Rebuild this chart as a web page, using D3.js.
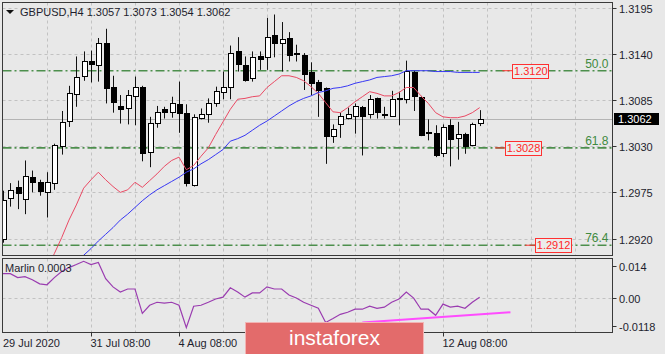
<!DOCTYPE html>
<html><head><meta charset="utf-8">
<script src="https://cdn.jsdelivr.net/npm/d3@7"></script>
<style>
html,body{margin:0;padding:0;background:#e8e8e8;overflow:hidden}
svg{display:block}
text{font-family:"Liberation Sans",Arial,sans-serif;font-size:11px}
</style></head><body>
<svg id="c" width="665" height="354"></svg>
<script>
const symbol = "GBPUSD,H4";
const headerValues = ["1.3057","1.3073","1.3054","1.3062"];
const opens = [1.2919,1.2969,1.2981,1.2966,1.2993,1.2987,1.2975,1.2986,1.3030,1.3060,1.3093,1.3113,1.3132,1.3127,1.3153,1.3100,1.3078,1.3075,1.3090,1.3101,1.3024,1.3058,1.3074,1.3070,1.3080,1.3070,1.2984,1.3064,1.3068,1.3082,1.3095,1.3101,1.3143,1.3127,1.3111,1.3137,1.3136,1.3162,1.3153,1.3159,1.3141,1.3139,1.3119,1.3106,1.3099,1.3042,1.3056,1.3064,1.3066,1.3077,1.3068,1.3087,1.3069,1.3066,1.3088,1.3087,1.3119,1.3089,1.3047,1.3046,1.3022,1.3055,1.3039,1.3045,1.3032,1.3057];
const highs = [1.2977,1.2986,1.2989,1.3013,1.3001,1.2990,1.2999,1.3033,1.3072,1.3102,1.3137,1.3143,1.3144,1.3159,1.3170,1.3114,1.3091,1.3097,1.3113,1.3102,1.3065,1.3078,1.3077,1.3089,1.3107,1.3080,1.3068,1.3075,1.3087,1.3101,1.3119,1.3150,1.3160,1.3137,1.3143,1.3143,1.3183,1.3187,1.3178,1.3166,1.3151,1.3141,1.3130,1.3109,1.3100,1.3056,1.3070,1.3076,1.3081,1.3078,1.3091,1.3088,1.3077,1.3096,1.3095,1.3132,1.3120,1.3090,1.3062,1.3055,1.3056,1.3062,1.3059,1.3046,1.3058,1.3073];
const lows = [1.2915,1.2958,1.2955,1.2949,1.2975,1.2971,1.2945,1.2978,1.3020,1.3053,1.3077,1.3108,1.3106,1.3107,1.3081,1.3070,1.3057,1.3056,1.3055,1.3012,1.3005,1.3052,1.3063,1.3064,1.3046,1.2982,1.2982,1.3062,1.3058,1.3077,1.3086,1.3086,1.3119,1.3107,1.3107,1.3121,1.3121,1.3136,1.3119,1.3131,1.3131,1.3097,1.3091,1.3065,1.3009,1.3034,1.3040,1.3062,1.3045,1.3019,1.3063,1.3063,1.3063,1.3065,1.3055,1.3081,1.3072,1.3042,1.3037,1.3017,1.3017,1.3006,1.3014,1.3021,1.3030,1.3054];
const closes = [1.2966,1.2978,1.2974,1.2994,1.2987,1.2976,1.2987,1.3031,1.3059,1.3093,1.3113,1.3131,1.3128,1.3153,1.3099,1.3082,1.3075,1.3091,1.3101,1.3022,1.3058,1.3071,1.3070,1.3081,1.3069,1.2986,1.3065,1.3069,1.3081,1.3096,1.3101,1.3141,1.3127,1.3109,1.3136,1.3134,1.3160,1.3153,1.3158,1.3139,1.3140,1.3116,1.3106,1.3097,1.3042,1.3050,1.3066,1.3069,1.3078,1.3066,1.3086,1.3070,1.3068,1.3086,1.3087,1.3120,1.3090,1.3044,1.3046,1.3020,1.3053,1.3038,1.3044,1.3031,1.3057,1.3062];
const redMA = [null,null,null,null,null,1.2862,1.2883,1.2902,1.2921,1.2942,1.2960,1.2980,1.2990,1.2999,1.2990,1.2982,1.2975,1.2978,1.2987,1.2981,1.2989,1.2997,1.3006,1.3013,1.3017,1.3002,1.3007,1.3018,1.3028,1.3044,1.3059,1.3074,1.3086,1.3087,1.3089,1.3090,1.3100,1.3107,1.3114,1.3114,1.3112,1.3108,1.3101,1.3093,1.3082,1.3071,1.3070,1.3076,1.3083,1.3089,1.3095,1.3093,1.3090,1.3090,1.3094,1.3100,1.3100,1.3090,1.3081,1.3070,1.3065,1.3064,1.3064,1.3066,1.3070,1.3076];
const blueMA = [null,null,null,null,null,null,null,null,null,null,1.2892,1.2900,1.2908,1.2917,1.2925,1.2933,1.2942,1.2949,1.2957,1.2965,1.2972,1.2978,1.2983,1.2988,1.2993,1.2999,1.3003,1.3009,1.3014,1.3020,1.3026,1.3036,1.3039,1.3043,1.3049,1.3055,1.3060,1.3066,1.3072,1.3078,1.3083,1.3087,1.3090,1.3094,1.3096,1.3099,1.3100,1.3102,1.3105,1.3107,1.3109,1.3112,1.3113,1.3114,1.3116,1.3120,1.3120,1.3120,1.3120,1.3119,1.3119,1.3119,1.3118,1.3118,1.3118,1.3118];
const marlin = [0.0105,0.0105,0.0088,0.0092,0.0079,0.0061,0.0057,0.0088,0.0114,0.0131,0.0144,0.0158,0.0144,0.0153,0.0083,0.0048,0.0026,0.0039,0.0039,-0.0066,-0.0031,-0.0018,-0.0022,-0.0018,-0.0031,-0.0127,-0.0035,-0.0031,-0.0018,-0.0004,0.0004,0.0044,0.0026,0.0004,0.0022,0.0022,0.0048,0.0039,0.0039,0.0013,0.0000,-0.0018,-0.0031,-0.0044,-0.0105,-0.0088,-0.0070,-0.0061,-0.0048,-0.0048,-0.0035,-0.0044,-0.0039,-0.0018,-0.0004,0.0026,0.0000,-0.0048,-0.0048,-0.0074,-0.0026,-0.0039,-0.0035,-0.0044,-0.0018,0.0003];
const marlinLabel = "Marlin 0.0003";
const priceTicks = [1.3195,1.3140,1.3085,1.3030,1.2975,1.2920];
const oscTicks = [0.014,0,-0.0118];
const oscTickLabels = ["0.014","0.00","-0.0118"];
// labels 6 Aug 08:00 and 10 Aug 08:00 sit under the logo and are not visible in the reference
const timeLabelIdx = [0,12,24,60];
const timeLabels = ["29 Jul 2020","31 Jul 08:00","4 Aug 08:00","12 Aug 08:00"];
const fibPrices = [1.3120,1.3028,1.2912];
const fibNames = ["50.0","61.8","76.4"];
const tagPrices = [1.3120,1.3028,1.2912];
const tagIdx = [68.1,67.1,71.2];
const lastPrice = 1.3062;
const trendIdx = [49,69.2];
const trendVal = [-0.0105,-0.0061];
const logoText = "instaforex";

const svg = d3.select("#c");
const L = 2.5, R = 612.5, MT = 2.5, MB = 255.5, OT = 258.5, OB = 332.5;
const x = d3.scaleLinear().domain([0,83]).range([3,3+83*7.333]);
const y = d3.scaleLinear().domain([1.2920,1.3195]).range([238.5,7.8]);
const yo = d3.scaleLinear().domain([-0.0118,0.014]).range([325.5,265.5]);
const idx = d3.range(opens.length);

const defs = svg.append("defs");
defs.append("clipPath").attr("id","cm").append("rect").attr("x",L+0.5).attr("y",MT+0.5).attr("width",R-L-1).attr("height",MB-MT-1);
defs.append("clipPath").attr("id","co").append("rect").attr("x",L+0.5).attr("y",OT+0.5).attr("width",R-L-1).attr("height",OB-OT-1);

const gridColor = "#c2c2c2";
const vIdx = d3.range(6,83,6);
const gm = svg.append("g").attr("clip-path","url(#cm)");
const go = svg.append("g").attr("clip-path","url(#co)");
[gm,go].forEach((g,k)=>{
  g.selectAll(null).data(vIdx).enter().append("line")
    .attr("x1",d=>Math.round(x(d))+0.5).attr("x2",d=>Math.round(x(d))+0.5)
    .attr("y1",k?OT:MT).attr("y2",k?OB:MB)
    .attr("stroke",gridColor).attr("stroke-dasharray","3,3");
});
gm.selectAll(null).data(priceTicks).enter().append("line")
  .attr("x1",L).attr("x2",R).attr("y1",d=>Math.round(y(d))+0.5).attr("y2",d=>Math.round(y(d))+0.5)
  .attr("stroke",gridColor).attr("stroke-dasharray","3,3");
go.append("line").attr("x1",L).attr("x2",R).attr("y1",Math.round(yo(0))+0.5).attr("y2",Math.round(yo(0))+0.5)
  .attr("stroke",gridColor).attr("stroke-dasharray","3,3");

gm.append("line").attr("x1",L).attr("x2",R).attr("y1",Math.round(y(lastPrice))+0.5).attr("y2",Math.round(y(lastPrice))+0.5)
  .attr("stroke","#b4b4b4");

const fibColor = "#4d8f4d";
gm.selectAll(null).data(fibPrices).enter().append("line")
  .attr("x1",L).attr("x2",R).attr("y1",d=>y(d)).attr("y2",d=>y(d))
  .attr("stroke",fibColor).attr("stroke-width",1.6).attr("stroke-dasharray","9,3,2,3");
gm.selectAll(null).data(fibPrices).enter().append("text")
  .attr("x",R-4).attr("y",d=>y(d)-3).attr("text-anchor","end")
  .attr("fill","#3f8a3f").style("font-size","12px").text((d,i)=>fibNames[i]);

const cg = gm.append("g");
cg.selectAll("line.w").data(idx).enter().append("line")
  .attr("x1",i=>Math.round(x(i))+0.5).attr("x2",i=>Math.round(x(i))+0.5)
  .attr("y1",i=>y(highs[i])).attr("y2",i=>y(lows[i]))
  .attr("stroke","#111").attr("stroke-width",1);
cg.selectAll("rect.b").data(idx).enter().append("rect")
  .attr("x",i=>Math.round(x(i))-2+0.5).attr("width",5)
  .attr("y",i=>Math.round(y(Math.max(opens[i],closes[i])))+0.5)
  .attr("height",i=>Math.max(1,Math.round(Math.abs(y(opens[i])-y(closes[i])))))
  .attr("fill",i=>closes[i]>=opens[i]?"#ffffff":"#000000")
  .attr("stroke","#000").attr("stroke-width",1);

const lineP = d3.line().defined(d=>d[1]!=null).x(d=>x(d[0])).y(d=>y(d[1]));
gm.append("path").attr("d",lineP(redMA.map((v,i)=>[i,v]))).attr("fill","none").attr("stroke","#ea4a64").attr("stroke-width",1);
gm.append("path").attr("d",lineP(blueMA.map((v,i)=>[i,v]))).attr("fill","none").attr("stroke","#3838f4").attr("stroke-width",1);

tagPrices.forEach((p,i)=>{
  const x0 = x(tagIdx[i]);
  const yy = y(p);
  gm.append("line").attr("x1",x0).attr("x2",x0+10).attr("y1",yy).attr("y2",yy).attr("stroke","#ff3030");
  gm.append("rect").attr("x",Math.round(x0+10)+0.5).attr("y",Math.round(yy-7)+0.5).attr("width",36).attr("height",14)
    .attr("fill","#ececec").attr("stroke","#ff3030");
  gm.append("text").attr("x",x0+28.5).attr("y",yy+4).attr("text-anchor","middle").attr("fill","#ff2828").text(d3.format(".4f")(p));
});

go.append("path").attr("d",d3.line().x((d,i)=>x(i)).y(d=>yo(d))(marlin)).attr("fill","none").attr("stroke","#9a3cb0").attr("stroke-width",1.2);
go.append("line").attr("x1",x(trendIdx[0])).attr("x2",x(trendIdx[1])).attr("y1",yo(trendVal[0])).attr("y2",yo(trendVal[1]))
  .attr("stroke","#ff4cff").attr("stroke-width",2);

svg.append("rect").attr("x",L).attr("y",MT).attr("width",R-L).attr("height",MB-MT).attr("fill","none").attr("stroke","#3a3a3a");
svg.append("rect").attr("x",L).attr("y",OT).attr("width",R-L).attr("height",OB-OT).attr("fill","none").attr("stroke","#3a3a3a");

const axCol = "#1e1e2e";
priceTicks.forEach(p=>{
  const yy = Math.round(y(p))+0.5;
  svg.append("line").attr("x1",R).attr("x2",R+4).attr("y1",yy).attr("y2",yy).attr("stroke","#333");
  svg.append("text").attr("x",619).attr("y",yy+4).attr("fill",axCol).text(d3.format(".4f")(p));
});
oscTicks.forEach((v,i)=>{
  const yy = Math.round(yo(v))+0.5;
  svg.append("line").attr("x1",R).attr("x2",R+4).attr("y1",yy).attr("y2",yy).attr("stroke","#333");
  svg.append("text").attr("x",619).attr("y",yy+4).attr("fill",axCol).text(oscTickLabels[i]);
});
const ly = y(lastPrice);
svg.append("rect").attr("x",614).attr("y",Math.round(ly-6)).attr("width",45).attr("height",12).attr("fill","#000");
svg.append("text").attr("x",618).attr("y",ly+4).attr("fill","#fff").text(d3.format(".4f")(lastPrice));

timeLabelIdx.forEach((t,i)=>{
  const xx = Math.round(x(t))+0.5;
  if (t>0) svg.append("line").attr("x1",xx).attr("x2",xx).attr("y1",OB).attr("y2",OB+4).attr("stroke","#333");
  svg.append("text").attr("x",t===0?3:xx-1).attr("y",347).attr("fill",axCol).text(timeLabels[i]);
});

svg.append("path").attr("d","M6,10 L14,10 L10,14 Z").attr("fill","#111");
svg.append("text").attr("x",20).attr("y",16).attr("fill",axCol).text(symbol + "  " + headerValues.join(" "));
svg.append("text").attr("x",5).attr("y",272).attr("fill",axCol).text(marlinLabel);

svg.append("rect").attr("x",245.5).attr("y",322.5).attr("width",178).attr("height",33).attr("fill","#e36b6b").attr("stroke","#f2b4b4");
svg.append("text").attr("x",334.5).attr("y",345).attr("text-anchor","middle").attr("fill","#ffffff").style("font-size","21px").text(logoText);
</script>
</body></html>
